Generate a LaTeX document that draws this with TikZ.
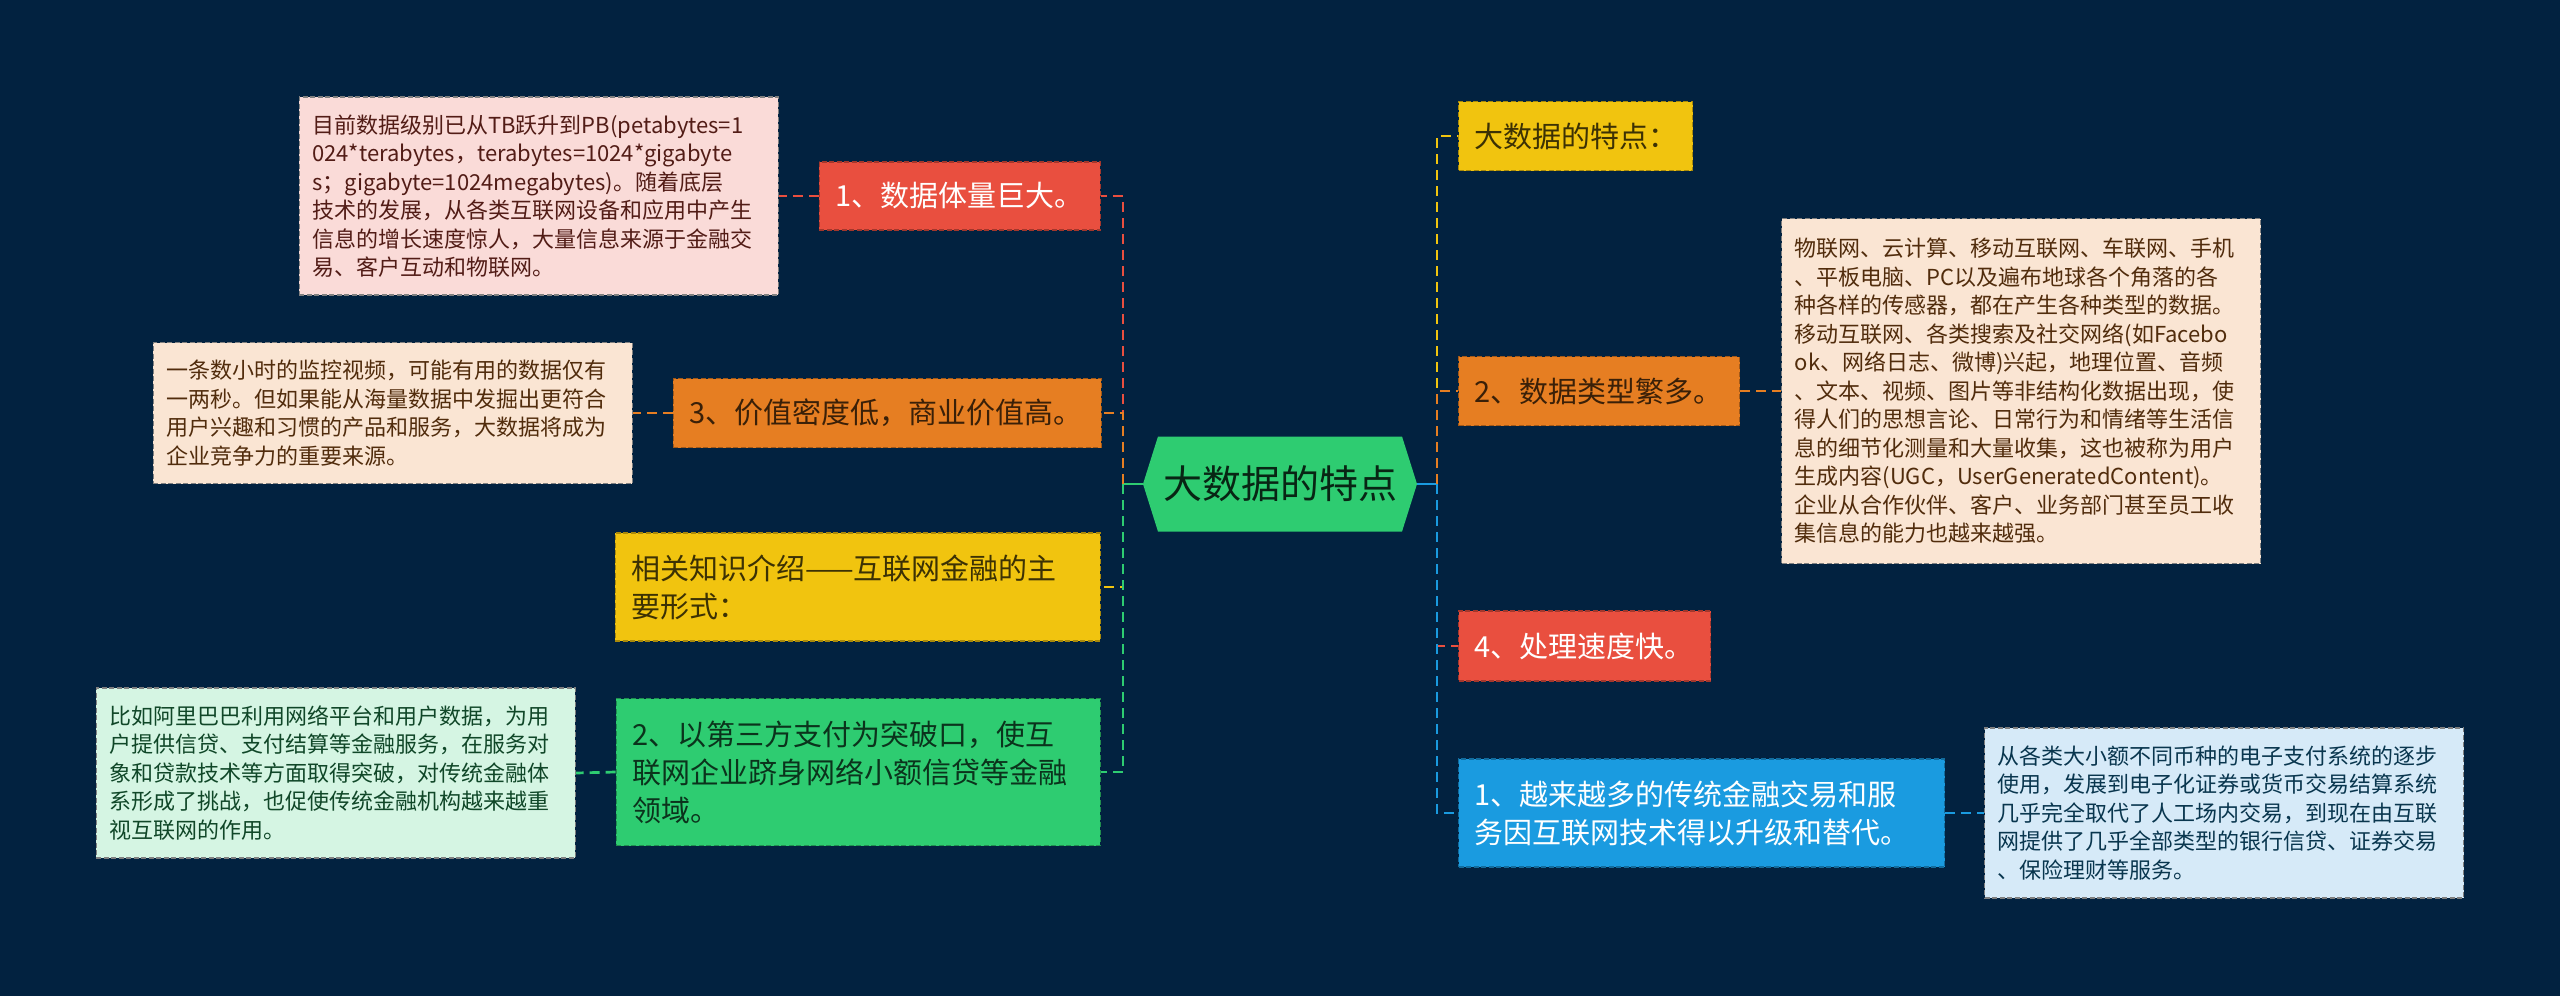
\documentclass[tikz,border=0pt]{standalone}
\usepackage{fontspec}
\setmainfont{Noto Sans CJK SC}
\usepackage{tikz}
\usetikzlibrary{shapes.symbols}
\definecolor{bg}{RGB}{2,34,64}
\definecolor{cred}{RGB}{233,79,63}
\definecolor{corange}{RGB}{230,126,34}
\definecolor{cyellow}{RGB}{241,196,15}
\definecolor{cgreen}{RGB}{46,204,113}
\definecolor{cblue}{RGB}{26,155,224}
\definecolor{npink}{RGB}{250,219,216}
\definecolor{npeach}{RGB}{250,229,211}
\definecolor{ngreen}{RGB}{213,245,227}
\definecolor{nblue}{RGB}{214,234,248}

\begin{document}
\begin{tikzpicture}[x=1pt,y=-1pt,
 root/.style={shape=signal, signal to=west and east, signal pointer angle=145, fill=cgreen, text=cgreen!18!black, minimum width=274pt, minimum height=95pt, inner sep=0pt, font=\fontsize{39}{47}\selectfont},
 box/.style 2 args={fill=#1, draw=#1!70!black, text=#2, dash pattern=on 5pt off 2.5pt, line width=1.3pt, inner xsep=16pt, inner ysep=0pt, align=left, font=\fontsize{29}{38}\selectfont},
 note/.style 2 args={fill=#1, draw=black!50, text=#2!35!black, dash pattern=on 5pt off 2.5pt, line width=1.3pt, inner xsep=13pt, inner ysep=0pt, align=left, text width=453pt, font=\fontsize{22}{28.5}\selectfont},
 link/.style={draw=#1, line width=2.7pt, dash pattern=on 10pt off 6pt}]
 \fill[bg] (0,0) rectangle (2560,996);
 \useasboundingbox (0,0) rectangle (2560,996);

 \node[root] (root) at (1280,484) {大数据的特点};
 \coordinate (lj) at (1123,484);
 \coordinate (rj) at (1437,484);

 \node[box={cred}{white}, anchor=east, text width=249pt, minimum height=68pt] (b1) at (1101,196) {1、数据体量巨大。};
 \node[box={corange}{corange!25!black}, anchor=east, text width=396pt, minimum height=69pt] (b3) at (1102,413) {3、价值密度低，商业价值高。};
 \node[box={cyellow}{cyellow!25!black}, anchor=east, text width=453pt, minimum height=108pt] (b4) at (1101,587) {相关知识介绍——互联网金融的主\\要形式：};
 \node[box={cgreen}{cgreen!25!black}, anchor=east, text width=452pt, minimum height=147pt] (b2) at (1101,772) {2、以第三方支付为突破口，使互\\联网企业跻身网络小额信贷等金融\\领域。};

 \node[box={cyellow}{cyellow!25!black}, anchor=west, text width=202pt, minimum height=69pt] (r1) at (1458,136) {大数据的特点：};
 \node[box={corange}{corange!25!black}, anchor=west, text width=249pt, minimum height=69pt] (r2) at (1458,391) {2、数据类型繁多。};
 \node[box={cred}{white}, anchor=west, text width=220pt, minimum height=70pt] (r4) at (1458,646) {4、处理速度快。};
 \node[box={cblue}{white}, anchor=west, text width=454pt, minimum height=108pt] (r5) at (1458,813) {1、越来越多的传统金融交易和服\\务因互联网技术得以升级和替代。};

 \node[note={npink}{cred}, anchor=east, minimum height=198pt] (n1) at (779,196) {目前数据级别已从TB跃升到PB(petabytes=1\\024*terabytes，terabytes=1024*gigabyte\\s；gigabyte=1024megabytes)。随着底层\\技术的发展，从各类互联网设备和应用中产生\\信息的增长速度惊人，大量信息来源于金融交\\易、客户互动和物联网。};
 \node[note={npeach}{corange}, anchor=east, minimum height=141pt] (n3) at (633,413) {一条数小时的监控视频，可能有用的数据仅有\\一两秒。但如果能从海量数据中发掘出更符合\\用户兴趣和习惯的产品和服务，大数据将成为\\企业竞争力的重要来源。};
 \node[note={ngreen}{cgreen}, anchor=east, minimum height=170pt] (n2) at (576,773) {比如阿里巴巴利用网络平台和用户数据，为用\\户提供信贷、支付结算等金融服务，在服务对\\象和贷款技术等方面取得突破，对传统金融体\\系形成了挑战，也促使传统金融机构越来越重\\视互联网的作用。};
 \node[note={npeach}{corange}, anchor=west, minimum height=345pt] (n7) at (1781,391) {物联网、云计算、移动互联网、车联网、手机\\、平板电脑、PC以及遍布地球各个角落的各\\种各样的传感器，都在产生各种类型的数据。\\移动互联网、各类搜索及社交网络(如Facebo\\ok、网络日志、微博)兴起，地理位置、音频\\、文本、视频、图片等非结构化数据出现，使\\得人们的思想言论、日常行为和情绪等生活信\\息的细节化测量和大量收集，这也被称为用户\\生成内容(UGC，UserGeneratedContent)。\\企业从合作伙伴、客户、业务部门甚至员工收\\集信息的能力也越来越强。};
 \node[note={nblue}{cblue}, anchor=west, minimum height=170pt] (n9) at (1984,813) {从各类大小额不同币种的电子支付系统的逐步\\使用，发展到电子化证券或货币交易结算系统\\几乎完全取代了人工场内交易，到现在由互联\\网提供了几乎全部类型的银行信贷、证券交易\\、保险理财等服务。};

 \draw[cgreen, line width=2.7pt] (root.west) -- (lj);
 \draw[cblue, line width=2.7pt] (root.east) -- (rj);
 \draw[link=cred] (lj) |- (b1.east);
 \draw[link=corange] (lj) |- (b3.east);
 \draw[link=cyellow] (lj) |- (b4.east);
 \draw[link=cgreen] (lj) |- (b2.east);
 \draw[link=cyellow] (rj) |- (r1.west);
 \draw[link=corange] (rj) |- (r2.west);
 \draw[link=cred] (rj) |- (r4.west);
 \draw[link=cblue] (rj) |- (r5.west);
 \draw[link=cred] (b1.west) -- (n1.east);
 \draw[link=corange] (b3.west) -- (n3.east);
 \draw[link=cgreen] (b2.west) -- (n2.east);
 \draw[link=corange] (r2.east) -- (n7.west);
 \draw[link=cblue] (r5.east) -- (n9.west);
\end{tikzpicture}
\end{document}
